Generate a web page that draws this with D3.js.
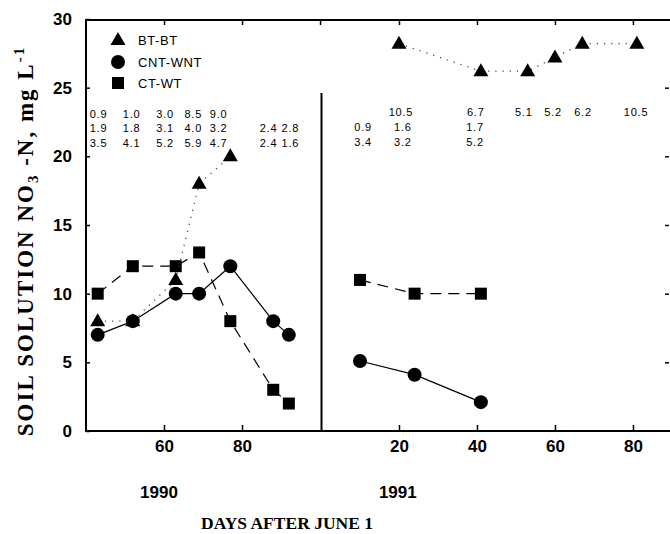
<!DOCTYPE html>
<html>
<head>
<meta charset="utf-8">
<script src="https://cdn.jsdelivr.net/npm/d3@7"></script>
<style>
  body { margin: 0; background: #fff; }
  svg { display: block; }
  .tick text { font-family: Arial, "Liberation Sans", sans-serif; font-weight: bold; font-size: 17px; fill: #000; }
  .tick line { stroke: #000; stroke-width: 1.5; }
  .note { font-family: Arial, "Liberation Sans", sans-serif; font-size: 11px; letter-spacing: 0.8px; fill: #000; }
</style>
</head>
<body>
<div id="chart"></div>
<script>
// series names
const seriesNames = ["BT-BT", "CNT-WNT", "CT-WT"];

// 1990 data (days after June 1)
const bt90Days = [43, 52, 63, 69, 77];
const bt90Vals = [8, 8, 11, 18, 20];
const cnt90Days = [43, 52, 63, 69, 77, 88, 92];
const cnt90Vals = [7, 8, 10, 10, 12, 8, 7];
const ct90Days = [43, 52, 63, 69, 77, 88, 92];
const ct90Vals = [10, 12, 12, 13, 8, 3, 2];

// 1991 data
const bt91Days = [20, 41, 53, 60, 67, 81];
const bt91Vals = [28.2, 26.2, 26.2, 27.2, 28.2, 28.2];
const cnt91Days = [10, 24, 41];
const cnt91Vals = [5.1, 4.1, 2.1];
const ct91Days = [10, 24, 41];
const ct91Vals = [11, 10, 10];

// numeric notes printed above the curves
const note90Days = [43.2, 51.7, 60.3, 67.5, 74.0, 86.8, 92.4];
const note90Row1 = ["0.9", "1.0", "3.0", "8.5", "9.0", "", ""];
const note90Row2 = ["1.9", "1.8", "3.1", "4.0", "3.2", "2.4", "2.8"];
const note90Row3 = ["3.5", "4.1", "5.2", "5.9", "4.7", "2.4", "1.6"];
const note91Days1 = [20.5, 39.7, 52, 59.5, 67.2, 80.8];
const note91Row1 = ["10.5", "6.7", "5.1", "5.2", "6.2", "10.5"];
const note91Days2 = [10.8, 21, 39.5];
const note91Row2 = ["0.9", "1.6", "1.7"];
const note91Row3 = ["3.4", "3.2", "5.2"];

// ticks
const yTicks = [0, 5, 10, 15, 20, 25, 30];
const x90Ticks = [60, 80];
const x91Ticks = [20, 40, 60, 80];

const width = 670, height = 534;
const svg = d3.select("#chart").append("svg")
  .attr("width", width).attr("height", height);

const y = d3.scaleLinear().domain([0, 30]).range([431, 19]);
const x90 = d3.scaleLinear().domain([40, 100.5]).range([86, 322]);
const x91 = d3.scaleLinear().domain([0, 89.5]).range([321, 670]);

// axes
svg.append("g").attr("transform", "translate(0,431)")
  .call(d3.axisBottom(x90).tickValues(x90Ticks).tickSize(-6).tickPadding(9))
  .call(g => g.select(".domain").remove());
svg.append("g").attr("transform", "translate(0,431)")
  .call(d3.axisBottom(x91).tickValues(x91Ticks).tickSize(-6).tickPadding(9))
  .call(g => g.select(".domain").remove());
svg.append("g").attr("transform", "translate(0,20)")
  .call(d3.axisTop(x90).tickValues([60, 80, 100]).tickSize(-5).tickFormat(""))
  .call(g => g.select(".domain").remove());
svg.append("g").attr("transform", "translate(0,20)")
  .call(d3.axisTop(x91).tickValues(x91Ticks).tickSize(-5).tickFormat(""))
  .call(g => g.select(".domain").remove());
svg.append("g").attr("transform", "translate(86,0)")
  .call(d3.axisLeft(y).tickValues(yTicks).tickSize(-4).tickPadding(14))
  .call(g => g.select(".domain").remove());
svg.append("g").attr("transform", "translate(669,0)")
  .call(d3.axisRight(y).tickValues([5, 10, 15, 20, 25]).tickSize(-4).tickFormat(""))
  .call(g => g.select(".domain").remove());

// frame
const frame = svg.append("g").attr("stroke", "#000").attr("stroke-width", 2).attr("fill", "none");
frame.append("line").attr("x1", 86).attr("x2", 86).attr("y1", 19).attr("y2", 432);
frame.append("line").attr("x1", 85).attr("x2", 670).attr("y1", 20).attr("y2", 20);
frame.append("line").attr("x1", 85).attr("x2", 670).attr("y1", 431).attr("y2", 431);
frame.append("line").attr("x1", 321.5).attr("x2", 321.5).attr("y1", 93).attr("y2", 431);

// lines & markers
const styles = {
  "BT-BT": {dash: "1.2,6", width: 1.3, color: "#444"},
  "CNT-WNT": {dash: null, width: 1.2, color: "#000"},
  "CT-WT": {dash: "11,7", width: 1.2, color: "#000"}
};

function drawSeries(name, days, vals, xs) {
  const pts = days.map((d, i) => [xs(d), y(vals[i])]);
  const st = styles[name];
  svg.append("path")
    .attr("d", d3.line()(pts))
    .attr("fill", "none")
    .attr("stroke", st.color)
    .attr("stroke-width", st.width)
    .attr("stroke-dasharray", st.dash);
  const g = svg.append("g");
  pts.forEach(p => drawMarker(g, name, p[0], p[1]));
}

function drawMarker(g, name, cx, cy) {
  if (name === "BT-BT") {
    g.append("path").attr("d", `M${cx},${cy - 8}L${cx + 7.5},${cy + 5}L${cx - 7.5},${cy + 5}Z`).attr("fill", "#000");
  } else if (name === "CNT-WNT") {
    g.append("circle").attr("cx", cx).attr("cy", cy).attr("r", 7).attr("fill", "#000");
  } else {
    g.append("rect").attr("x", cx - 6).attr("y", cy - 6).attr("width", 12).attr("height", 12).attr("fill", "#000");
  }
}

drawSeries("CT-WT", ct90Days, ct90Vals, x90);
drawSeries("CNT-WNT", cnt90Days, cnt90Vals, x90);
drawSeries("BT-BT", bt90Days, bt90Vals, x90);
drawSeries("CT-WT", ct91Days, ct91Vals, x91);
drawSeries("CNT-WNT", cnt91Days, cnt91Vals, x91);
drawSeries("BT-BT", bt91Days, bt91Vals, x91);

// legend
const legend = svg.append("g");
seriesNames.forEach((n, i) => {
  const ly = [40, 62, 83][i];
  drawMarker(legend, n, 118, ly);
  legend.append("text")
    .attr("x", 138).attr("y", ly).attr("dy", "0.35em")
    .attr("font-family", "Arial, 'Liberation Sans', sans-serif")
    .attr("font-size", 13)
    .attr("letter-spacing", 0.6)
    .text(n);
});

// notes
function noteRow(days, texts, xs, py) {
  svg.append("g").selectAll("text").data(texts).join("text")
    .attr("class", "note")
    .attr("x", (d, i) => xs(days[i]))
    .attr("y", py)
    .attr("dy", "0.35em")
    .attr("text-anchor", "middle")
    .text(d => d);
}
noteRow(note90Days, note90Row1, x90, 114);
noteRow(note90Days, note90Row2, x90, 128);
noteRow(note90Days, note90Row3, x90, 143);
noteRow(note91Days1, note91Row1, x91, 112);
noteRow(note91Days2, note91Row2, x91, 127);
noteRow(note91Days2, note91Row3, x91, 142.5);

// year labels
svg.append("text").attr("x", x90(58.7)).attr("y", 498).attr("text-anchor", "middle")
  .attr("font-family", "Arial, 'Liberation Sans', sans-serif").attr("font-weight", "bold").attr("font-size", 17)
  .text("1990");
svg.append("text").attr("x", x91(19.7)).attr("y", 498).attr("text-anchor", "middle")
  .attr("font-family", "Arial, 'Liberation Sans', sans-serif").attr("font-weight", "bold").attr("font-size", 17)
  .text("1991");

// axis titles
svg.append("text").attr("x", 287).attr("y", 529).attr("text-anchor", "middle")
  .attr("font-family", "'Liberation Serif', 'Times New Roman', serif").attr("font-weight", "bold").attr("font-size", 17.5)
  .text("DAYS AFTER JUNE 1");

const yt = svg.append("text")
  .attr("transform", "translate(33,241) rotate(-90)")
  .attr("text-anchor", "middle")
  .attr("letter-spacing", 2)
  .attr("font-family", "'Liberation Serif', 'Times New Roman', serif").attr("font-weight", "bold").attr("font-size", 23);
yt.append("tspan").text("SOIL SOLUTION NO");
yt.append("tspan").attr("dy", 5).attr("font-size", 15).text("3");
yt.append("tspan").attr("dy", -5).text(" -N, mg L");
yt.append("tspan").attr("dy", -9).attr("font-size", 15).text("-1");
</script>
</body>
</html>
